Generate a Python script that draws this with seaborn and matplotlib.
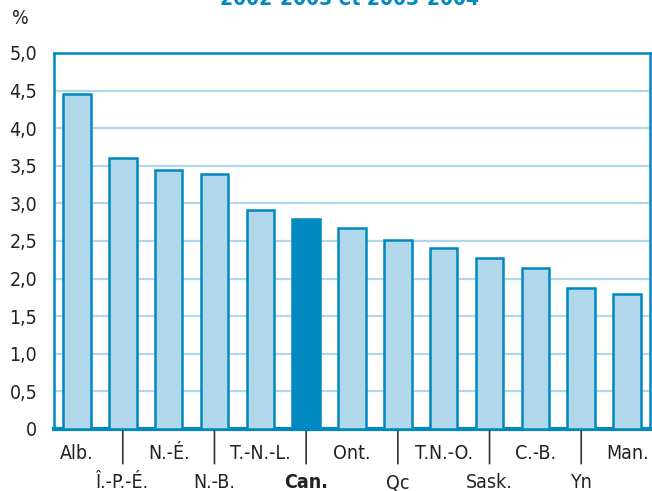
import numpy as np
import pandas as pd
import matplotlib
matplotlib.use('Agg')
import matplotlib.pyplot as plt
import seaborn as sns
from matplotlib.ticker import FixedLocator

# Data
provinces = ['Alb.', 'Î.-P.-É.', 'N.-É.', 'N.-B.', 'T.-N.-L.', 'Can.', 'Ont.',
             'Qc', 'T.N.-O.', 'Sask.', 'C.-B.', 'Yn', 'Man.']
values = [4.45, 3.60, 3.44, 3.39, 2.91, 2.79, 2.67, 2.51, 2.41, 2.27, 2.14, 1.88, 1.80]
yticks = [0, 0.5, 1.0, 1.5, 2.0, 2.5, 3.0, 3.5, 4.0, 4.5, 5.0]
ytick_labels = ['0', '0,5', '1,0', '1,5', '2,0', '2,5', '3,0', '3,5', '4,0', '4,5', '5,0']
title = '2002-2003 et 2003-2004'

blue = '#0088c0'
light = '#b0d8ea'
grid_col = '#b0d8ea'
txt = '#222222'

sns.set_style('white')
plt.rcParams['font.family'] = ['DejaVu Sans']
plt.rcParams['font.stretch'] = 'condensed'

df = pd.DataFrame({'prov': provinces, 'val': values})
colors = [blue if p == 'Can.' else light for p in provinces]

fig = plt.figure(figsize=(6.52, 4.91), dpi=100)
ax = fig.add_axes([54 / 652, 1 - 429 / 491, 596 / 652, 376 / 491])

sns.barplot(data=df, x='prov', y='val', hue='prov', palette=colors, legend=False,
            saturation=1, width=0.6, edgecolor=blue, linewidth=1.8, ax=ax, zorder=3)

ax.set_ylim(0, 5.0)
ax.set_xlim(-0.5, len(provinces) - 0.5)
ax.yaxis.set_major_locator(FixedLocator(yticks))
ax.set_yticklabels(ytick_labels, fontsize=14, color=txt, fontstretch='condensed')
for y in yticks[1:-1]:
    ax.axhline(y, color=grid_col, lw=1.6, zorder=1)

for s in ax.spines.values():
    s.set_color(blue)
    s.set_linewidth(1.8)
ax.spines['bottom'].set_linewidth(3)
ax.tick_params(axis='y', length=0, pad=12)

# two-row x labels with separator ticks under the second-row categories
ax.set_xticks([])
ax.set_xlabel('')
ax.set_ylabel('')
for i, p in enumerate(provinces):
    weight = 'bold' if p == 'Can.' else 'normal'
    if i % 2 == 0:
        ax.annotate(p, (i, 0), xycoords=('data', 'axes fraction'), xytext=(0, -11),
                    textcoords='offset points', ha='center', va='top', fontsize=14,
                    color=txt, weight=weight, fontstretch='condensed')
    else:
        ax.annotate('', (i, 0), xycoords=('data', 'axes fraction'), xytext=(0, -25),
                    textcoords='offset points',
                    arrowprops=dict(arrowstyle='-', color='#333333', lw=1.2,
                                    shrinkA=0, shrinkB=1.5))
        ax.annotate(p, (i, 0), xycoords=('data', 'axes fraction'), xytext=(0, -32),
                    textcoords='offset points', ha='center', va='top', fontsize=14,
                    color=txt, weight=weight, fontstretch='condensed')

fig.text(20 / 652, 1 - 18 / 491, '%', fontsize=14, color=txt, ha='center', va='center')
fig.text(350 / 652, 1 - 9 / 491, title, fontsize=15, color=blue, weight='bold',
         ha='center', va='bottom', fontstretch='condensed')

fig.savefig('out.png', dpi=100)
